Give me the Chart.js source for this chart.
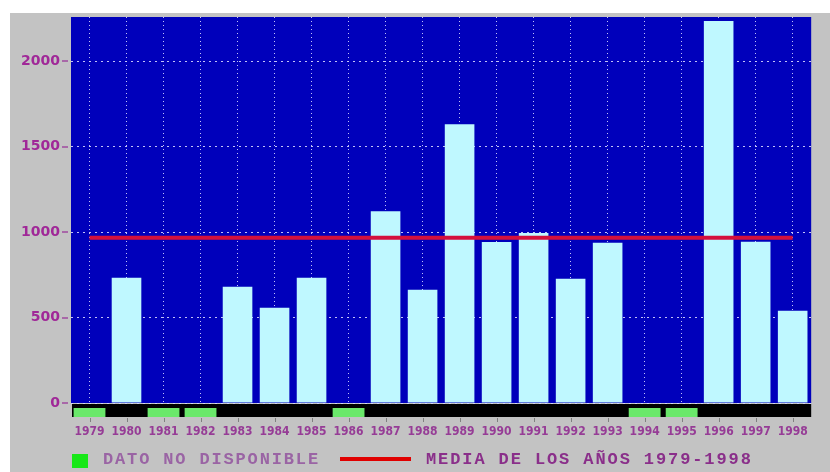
<!DOCTYPE html>
<html>
<head>
<meta charset="utf-8">
<script src="https://cdn.jsdelivr.net/npm/chart.js@4/dist/chart.umd.min.js"></script>
<style>
  html, body { margin:0; padding:0; background:#ffffff; }
  #wrap { position:relative; width:830px; height:472px; overflow:hidden; }
  #panel { position:absolute; left:10px; top:13px; width:820px; height:459px; background:#c3c3c3; }
  #c { position:absolute; left:0; top:0; }
  .leg { position:absolute; font-family:'Liberation Mono','DejaVu Sans Mono',monospace; font-size:17px; line-height:20px; white-space:nowrap; font-weight:bold; }
</style>
</head>
<body>
<div id="wrap">
  <div id="panel"></div>
  <canvas id="c" width="830" height="472"></canvas>
  <div style="position:absolute;left:72px;top:454px;width:16px;height:14px;background:#18e818;"></div>
  <div class="leg" style="left:103px;top:450px;color:#9a64a4;letter-spacing:1.85px;">DATO NO DISPONIBLE</div>
  <div style="position:absolute;left:340px;top:457px;width:71px;height:4px;background:#e00000;"></div>
  <div class="leg" style="left:426px;top:450px;color:#8a2f8a;letter-spacing:1.9px;">MEDIA DE LOS AÑOS 1979-1998</div>
</div>
<script>
const years = ['1979','1980','1981','1982','1983','1984','1985','1986','1987','1988',
               '1989','1990','1991','1992','1993','1994','1995','1996','1997','1998'];
const values = [null, 733, null, null, 680, 557, 733, null, 1122, 663,
                1632, 943, 995, 727, 938, null, null, 2236, 944, 540];
const missingYears = ['1979','1981','1982','1986','1994','1995'];
const meanValue = 968;
const yTicks = [0, 500, 1000, 1500, 2000];
const yMax = 2260;

const decor = {
  id: 'decor',
  beforeDraw(chart) {
    const a = chart.chartArea, ctx = chart.ctx;
    ctx.save();
    ctx.fillStyle = '#0000bb';
    ctx.fillRect(a.left, a.top, a.right - a.left, a.bottom - a.top);
    ctx.restore();
  },
  afterDraw(chart) {
    const a = chart.chartArea, ctx = chart.ctx, xs = chart.scales.x, ys = chart.scales.y;
    ctx.save();
    ctx.fillStyle = '#000000';
    ctx.fillRect(a.left + 1, a.bottom + 1, a.right - a.left - 1, 13);
    const w = (xs.getPixelForValue(1) - xs.getPixelForValue(0)) * 0.86;
    ctx.fillStyle = '#6ae86a';
    missingYears.forEach(y => {
      const cx = xs.getPixelForValue(years.indexOf(y));
      ctx.fillRect(cx - w / 2, a.bottom + 5, w, 9);
    });
    ctx.strokeStyle = '#808080';
    ctx.lineWidth = 1;
    years.forEach((y, i) => {
      const cx = Math.round(xs.getPixelForValue(i)) + 0.5;
      ctx.beginPath();
      ctx.moveTo(cx, a.bottom + 15);
      ctx.lineTo(cx, a.bottom + 19);
      ctx.stroke();
    });
    // y-axis tick dashes
    ctx.strokeStyle = '#a868a8';
    ctx.lineWidth = 2;
    yTicks.forEach(v => {
      const py = Math.round(ys.getPixelForValue(v));
      ctx.beginPath();
      ctx.moveTo(a.left - 9, py);
      ctx.lineTo(a.left - 3, py);
      ctx.stroke();
    });
    ctx.restore();
  }
};

new Chart(document.getElementById('c'), {
  type: 'bar',
  data: {
    labels: years,
    datasets: [
      {
        type: 'line',
        data: [{x: years[0], y: meanValue}, {x: years[years.length - 1], y: meanValue}],
        borderColor: '#d4103c',
        borderWidth: 4,
        pointRadius: 0,
        fill: false,
        order: 0
      },
      {
        type: 'bar',
        data: values,
        backgroundColor: '#bff8ff',
        borderWidth: 0,
        barPercentage: 0.8,
        categoryPercentage: 1.0,
        order: 1
      }
    ]
  },
  options: {
    responsive: false,
    animation: false,
    events: [],
    layout: { padding: { left: 0, top: 17, right: 12, bottom: 29 } },
    plugins: { legend: { display: false }, tooltip: { enabled: false } },
    scales: {
      x: {
        type: 'category',
        offset: true,
        afterFit(s) { s.height = 40; },
        grid: { offset: false, color: 'rgba(215,215,255,0.9)', lineWidth: 1, drawTicks: false },
        border: { display: false, dash: [1, 3] },
        ticks: {
          autoSkip: false, maxRotation: 0, minRotation: 0, padding: 22,
          color: '#963c96',
          font: { family: "'DejaVu Sans Condensed','DejaVu Sans'", size: 12, weight: 'bold' }
        }
      },
      y: {
        min: 0,
        max: yMax,
        afterFit(s) { s.width = 71; },
        afterBuildTicks(s) { s.ticks = yTicks.map(v => ({ value: v })); },
        grid: {
          color: 'rgba(215,215,255,0.9)', lineWidth: 1,
          drawTicks: true, tickLength: 9, tickColor: 'rgba(0,0,0,0)'
        },
        border: { display: false, dash: [2, 4] },
        ticks: {
          padding: 2,
          color: '#a02898',
          font: { family: "'DejaVu Sans'", size: 14, weight: 'bold' },
          callback: v => String(v)
        }
      }
    }
  },
  plugins: [decor]
});
</script>
</body>
</html>
